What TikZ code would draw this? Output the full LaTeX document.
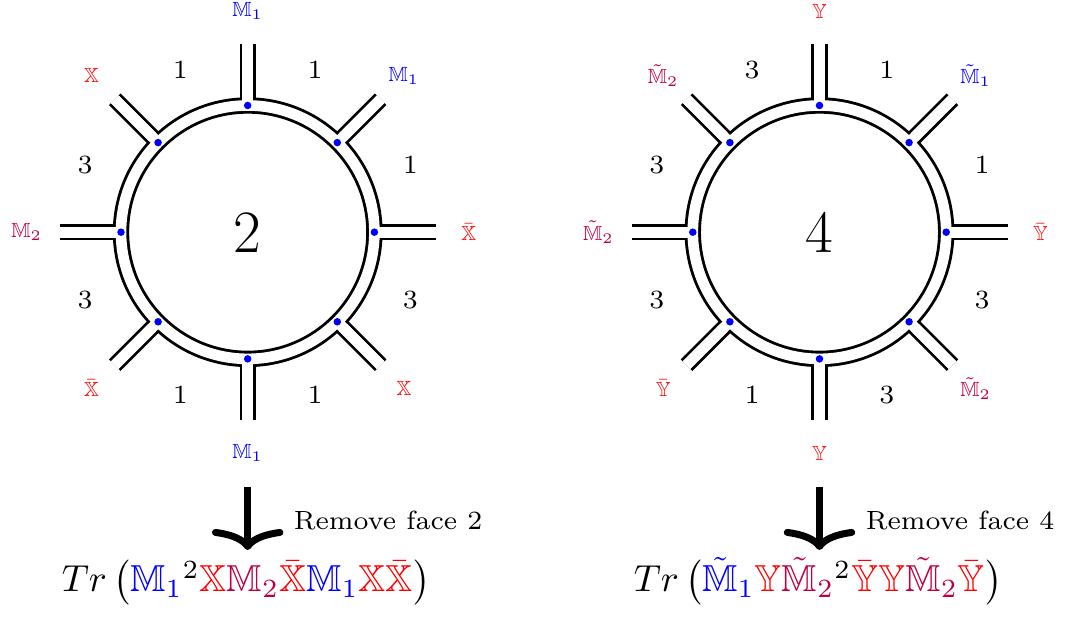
\documentclass[tikz,border=0pt]{standalone}
\usepackage{amsmath}
\usepackage{amssymb}
\usepackage{tikz}
\usetikzlibrary{arrows.meta, positioning, calc}
\usepackage{xcolor}
\tikzstyle{ribbon} = [line width=0.76pt, double=white, double distance=2.83pt]
\tikzstyle{gap} = [white, line width=2.83pt]
\tikzstyle{vertex} = [circle, fill=blue, inner sep=0pt, minimum size=2pt]
\tikzstyle{leglabel} = [font=\scriptsize, scale=0.78, inner sep=1pt]
\tikzstyle{facenum} = [font=\scriptsize, inner sep=1pt]
\tikzstyle{facelabel} = [font=\fontsize{16}{19}\selectfont]
\tikzstyle{arrow} = [line width=1.86pt, -{Computer Modern Rightarrow[length=5.6pt, width=19pt, round]}]

\newcommand{\Mone}{\textcolor{blue}{\mathbb{M}_1}}
\newcommand{\Mtwo}{\textcolor{purple}{\mathbb{M}_2}}
\newcommand{\tMone}{\textcolor{blue}{\tilde{\mathbb{M}}_1}}
\newcommand{\tMtwo}{\textcolor{purple}{\tilde{\mathbb{M}}_2}}
\newcommand{\Xx}{\textcolor{red}{\mathbb{X}}}
\newcommand{\Xb}{\textcolor{red}{\bar{\mathbb{X}}}}
\newcommand{\Yy}{\textcolor{red}{\mathbb{Y}}}
\newcommand{\Yb}{\textcolor{red}{\bar{\mathbb{Y}}}}

\begin{document}
\begin{tikzpicture}[x=0.266pt, y=0.266pt]
  \useasboundingbox (0,0) rectangle (1067,617);
  \coordinate (L) at (247.7,384.8);
  \coordinate (R) at (819.5,384.8);

  % ribbon graphs: legs, ring, then open the joints
  \foreach \c in {L,R}{
    \foreach \a in {0,45,...,315}
      \draw[ribbon] ($(\c)+(\a:126.7)$) -- ($(\c)+(\a:188)$);
    \draw[ribbon] (\c) circle (126.7);
    \foreach \a in {0,45,...,315}{
      \draw[gap] ($(\c)+(\a:126.7)$) -- ($(\c)+(\a:188)$);
      \node[vertex] (\c-v\a) at ($(\c)+(\a:126.7)$) {};
    }
  }

  % left graph
  \node[facelabel] (L-face) at (L) {2};
  \foreach \a/\t [count=\i] in {90/\Mone, 45/\Mone, 0/\Xb, -45/\Xx, -90/\Mone, -135/\Xb, 180/\Mtwo, 135/\Xx}
    \node[leglabel] (L-l\i) at ($(L)+(\a:221)$) {$\t$};
  \foreach \a/\n [count=\i] in {112.5/1, 67.5/1, 22.5/1, -22.5/3, -67.5/1, -112.5/1, -157.5/3, 157.5/3}
    \node[facenum] (L-n\i) at ($(L)+(\a:176)$) {$\n$};

  % right graph
  \node[facelabel] (R-face) at (R) {4};
  \foreach \a/\t [count=\i] in {90/\Yy, 45/\tMone, 0/\Yb, -45/\tMtwo, -90/\Yy, -135/\Yb, 180/\tMtwo, 135/\tMtwo}
    \node[leglabel] (R-l\i) at ($(R)+(\a:221)$) {$\t$};
  \foreach \a/\n [count=\i] in {112.5/3, 67.5/1, 22.5/1, -22.5/3, -67.5/3, -112.5/1, -157.5/3, 157.5/3}
    \node[facenum] (R-n\i) at ($(R)+(\a:176)$) {$\n$};

  % removal steps
  \coordinate (L-top) at (247.7,130);
  \coordinate (L-tip) at (247.7,67);
  \coordinate (R-top) at (819.5,130);
  \coordinate (R-tip) at (819.5,67);
  \draw[arrow] (L-top) -- (L-tip);
  \draw[arrow] (R-top) -- (R-tip);
  \node[anchor=west, font=\scriptsize, inner sep=0pt] (L-remove) at (293,96) {Remove face 2};
  \node[anchor=west, font=\scriptsize, inner sep=0pt] (R-remove) at (865,96) {Remove face 4};

  \node[anchor=base, font=\normalsize] (L-trace) at (246,25) {$Tr\,\bigl(\Mone^2\Xx\Mtwo\Xb\Mone\Xx\Xb\bigr)$};
  \node[anchor=base, font=\normalsize] (R-trace) at (818,25) {$Tr\,\bigl(\tMone\Yy\tMtwo^2\Yb\Yy\tMtwo\Yb\bigr)$};
\end{tikzpicture}
\end{document}
